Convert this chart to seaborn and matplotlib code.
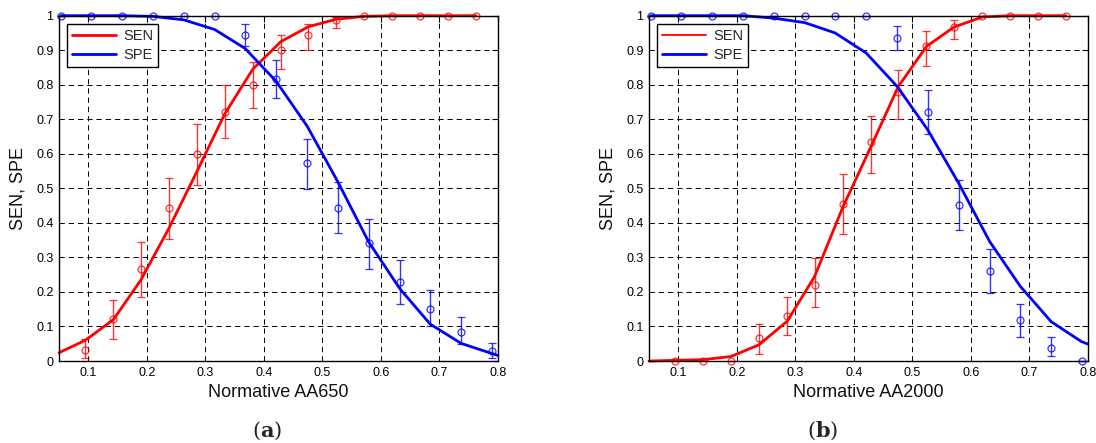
import numpy as np
import pandas as pd
import matplotlib
matplotlib.use("Agg")
import matplotlib.pyplot as plt
import seaborn as sns

# ---------------- data ----------------
sen_x = [0.095, 0.143, 0.190, 0.238, 0.286, 0.333, 0.381, 0.429, 0.476, 0.524, 0.571, 0.619, 0.667, 0.714, 0.762]
spe_x = [0.053, 0.105, 0.158, 0.211, 0.263, 0.316, 0.368, 0.421, 0.474, 0.526, 0.579, 0.632, 0.684, 0.737, 0.789]
sen_fit_x = [0.05] + sen_x
spe_fit_x = spe_x + [0.80]

# panel (a)
sen_a = [0.032, 0.121, 0.266, 0.443, 0.600, 0.721, 0.800, 0.900, 0.944, 0.988, 1, 1, 1, 1, 1]
sen_a_hi = [0.064, 0.176, 0.344, 0.531, 0.687, 0.798, 0.867, 0.943, 0.977, 0.997, 1, 1, 1, 1, 1]
sen_a_lo = [0.010, 0.065, 0.186, 0.353, 0.510, 0.646, 0.734, 0.846, 0.901, 0.964, 1, 1, 1, 1, 1]
spe_a = [1, 1, 1, 1, 1, 1, 0.944, 0.818, 0.573, 0.443, 0.341, 0.230, 0.150, 0.085, 0.030]
spe_a_hi = [1, 1, 1, 1, 1, 1, 0.976, 0.872, 0.643, 0.517, 0.411, 0.293, 0.206, 0.127, 0.051]
spe_a_lo = [1, 1, 1, 1, 1, 1, 0.913, 0.761, 0.499, 0.372, 0.267, 0.164, 0.101, 0.049, 0.008]
sen_fit_a = [0.024, 0.060, 0.120, 0.235, 0.385, 0.550, 0.715, 0.845, 0.925, 0.968, 0.990, 0.998, 1, 1, 1, 1]
spe_fit_a = [1, 1, 1, 0.998, 0.988, 0.960, 0.905, 0.810, 0.680, 0.520, 0.345, 0.210, 0.107, 0.051, 0.022, 0.016]

# panel (b)
sen_b = [0, 0, 0, 0.066, 0.130, 0.220, 0.455, 0.633, 0.778, 0.911, 0.967, 1, 1, 1, 1]
sen_b_hi = [0, 0, 0, 0.107, 0.186, 0.297, 0.543, 0.710, 0.843, 0.955, 0.988, 1, 1, 1, 1]
sen_b_lo = [0, 0, 0, 0.020, 0.075, 0.155, 0.368, 0.544, 0.701, 0.855, 0.932, 1, 1, 1, 1]
spe_b = [1, 1, 1, 1, 1, 1, 1, 1, 0.935, 0.721, 0.452, 0.261, 0.119, 0.039, 0.0]
spe_b_hi = [1, 1, 1, 1, 1, 1, 1, 1, 0.969, 0.786, 0.524, 0.324, 0.164, 0.070, 0.0]
spe_b_lo = [1, 1, 1, 1, 1, 1, 1, 1, 0.900, 0.658, 0.379, 0.197, 0.070, 0.015, 0.0]
sen_fit_b = [0.0, 0.002, 0.004, 0.013, 0.047, 0.115, 0.245, 0.445, 0.620, 0.795, 0.911, 0.967, 0.996, 1, 1, 1]
spe_fit_b = [1, 1, 1, 1, 0.993, 0.980, 0.950, 0.892, 0.795, 0.670, 0.515, 0.346, 0.217, 0.114, 0.056, 0.049]

x_ticks = [0.1, 0.2, 0.3, 0.4, 0.5, 0.6, 0.7, 0.8]
x_tick_labels = ["0.1", "0.2", "0.3", "0.4", "0.5", "0.6", "0.7", "0.8"]
y_ticks = [0, 0.1, 0.2, 0.3, 0.4, 0.5, 0.6, 0.7, 0.8, 0.9, 1.0]
y_tick_labels = ["0", "0.1", "0.2", "0.3", "0.4", "0.5", "0.6", "0.7", "0.8", "0.9", "1"]

# ---------------- style ----------------
sns.set_theme(style="white")
plt.rcParams["font.family"] = ["Liberation Sans", "DejaVu Sans"]
plt.rcParams["mathtext.fontset"] = "dejavuserif"

W, H = 1096, 443
fig = plt.figure(figsize=(W / 100, H / 100), dpi=100)
ax_a = fig.add_axes([59 / W, 82 / H, 439 / W, 345.3 / H])
ax_b = fig.add_axes([649 / W, 82 / H, 439 / W, 345.3 / H])


def draw(ax, sen, sen_lo, sen_hi, spe, spe_lo, spe_hi, sen_fit, spe_fit, xlabel, thin_sen_handle=False):
    for xs, ys, lo, hi, col in [(sen_x, sen, sen_lo, sen_hi, "#ff0000"),
                                (spe_x, spe, spe_lo, spe_hi, "#0000ff")]:
        ys_a = np.array(ys)
        yerr = [ys_a - np.array(lo), np.array(hi) - ys_a]
        cont = ax.errorbar(xs, ys, yerr=yerr, fmt="o", mfc="none", mec=col, ms=5, mew=0.9,
                           ecolor=col, elinewidth=1.0, capsize=2.6, capthick=1.0, alpha=0.8,
                           zorder=3)
        for child in cont.get_children():
            child.set_clip_on(False)
    df_sen = pd.DataFrame({"x": sen_fit_x, "y": sen_fit})
    df_spe = pd.DataFrame({"x": spe_fit_x, "y": spe_fit})
    sns.lineplot(data=df_sen, x="x", y="y", ax=ax, color="#ff0000", lw=2.0, sort=False,
                 estimator=None, label="SEN", clip_on=False, zorder=4)
    sns.lineplot(data=df_spe, x="x", y="y", ax=ax, color="#0000ff", lw=2.0, sort=False,
                 estimator=None, label="SPE", clip_on=False, zorder=4)

    ax.set_xlim(0.05, 0.8)
    ax.set_ylim(0, 1)
    ax.set_xticks(x_ticks)
    ax.set_xticklabels(x_tick_labels)
    ax.set_yticks(y_ticks)
    ax.set_yticklabels(y_tick_labels)
    ax.tick_params(direction="in", top=True, right=True, length=4, width=0.8,
                   labelsize=9, colors="black", pad=4)
    ax.grid(True, color="black", linestyle=(0, (5.5, 4)), lw=0.7)
    for sp in ax.spines.values():
        sp.set_color("black")
        sp.set_linewidth(1.0)
        sp.set_zorder(5)
    ax.set_xlabel(xlabel, fontsize=13, color="#111111", labelpad=4)
    ax.set_ylabel("SEN, SPE", fontsize=13, color="#111111", labelpad=7)
    leg = ax.legend(loc="upper left", frameon=True, fancybox=False, edgecolor="black",
                    framealpha=1, fontsize=10.5, handlelength=3.0, borderaxespad=0.55,
                    borderpad=0.35, labelspacing=0.35, handletextpad=0.5)
    leg.get_frame().set_linewidth(1.0)
    leg.set_zorder(6)
    if thin_sen_handle:
        leg.get_lines()[0].set_linewidth(1.3)


draw(ax_a, sen_a, sen_a_lo, sen_a_hi, spe_a, spe_a_lo, spe_a_hi, sen_fit_a, spe_fit_a,
     "Normative AA650")
draw(ax_b, sen_b, sen_b_lo, sen_b_hi, spe_b, spe_b_lo, spe_b_hi, sen_fit_b, spe_fit_b,
     "Normative AA2000", thin_sen_handle=True)

fig.text(267 / W, 1 - 431 / H, r"($\mathbf{a}$)", ha="center", va="center", fontsize=15,
         family="DejaVu Serif")
fig.text(823 / W, 1 - 431 / H, r"($\mathbf{b}$)", ha="center", va="center", fontsize=15,
         family="DejaVu Serif")

fig.savefig("out.png", dpi=100)
